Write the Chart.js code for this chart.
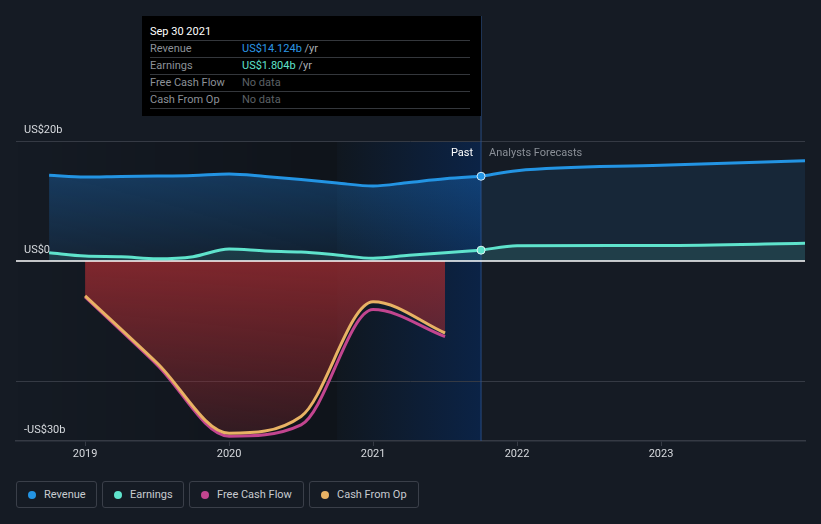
<!DOCTYPE html>
<html>
<head>
<meta charset="utf-8">
<script src="https://cdn.jsdelivr.net/npm/chart.js@4.4.0/dist/chart.umd.min.js"></script>
<style>
  body { margin: 0; background: #151b24; font-family: Roboto, "Noto Sans", sans-serif; }
  #wrap { position: relative; width: 821px; height: 524px; overflow: hidden; }
  #mainChart { position: absolute; left: 0; top: 0; }

  /* fixed tooltip card, as in the screenshot */
  #tip { position: absolute; left: 142px; top: 16px; width: 339px; height: 100px; background: #000; font-size: 11px; color: #8c9198; }
  #tip .hd { position: absolute; left: 8px; top: 7px; height: 17px; line-height: 17px; color: #fff; }
  #tip .row { position: absolute; left: 8px; width: 320px; height: 17px; line-height: 16px; border-top: 1px solid #34373c; box-sizing: border-box; }
  #tip .row.last { border-bottom: 1px solid #34373c; height: 18px; }
  #tip .val { position: absolute; left: 92px; top: 0; }
  #tip .unit { color: #a9adb3; }

  #legend { position: absolute; left: 16px; top: 481px; display: flex; gap: 5px; }
  .leg-item { box-sizing: border-box; height: 27px; border: 1px solid #3a3f49; border-radius: 3px; padding-left: 11px;
              display: flex; align-items: center; font-size: 11px; color: #c8cbd0; }
  .leg-dot { width: 8px; height: 8px; border-radius: 50%; margin-right: 8px; }
</style>
</head>
<body>
<div id="wrap">
  <canvas id="mainChart" width="821" height="470"></canvas>

  <div id="tip">
    <div class="hd">Sep 30 2021</div>
    <div class="row" style="top:24px">Revenue<span class="val"><span style="color:#2c98e6">US$14.124b</span> <span class="unit">/yr</span></span></div>
    <div class="row" style="top:41px">Earnings<span class="val"><span style="color:#5fe2cb">US$1.804b</span> <span class="unit">/yr</span></span></div>
    <div class="row" style="top:58px">Free Cash Flow<span class="val" style="color:#5c6066">No data</span></div>
    <div class="row last" style="top:75px">Cash From Op<span class="val" style="color:#5c6066">No data</span></div>
  </div>

  <div id="legend"></div>
</div>

<script>
'use strict';

/* Colours */
const C_REV  = '#2394e3';
const C_EARN = '#5fe3cc';
const C_FCF  = '#c2458f';
const C_CFO  = '#e8b264';
const C_GRID = '#353a44';
const C_TEXT = '#d6d9dd';

/* Data (US$ billions, x in decimal years) */
const pastQuarters   = [2018.75, 2019.0, 2019.25, 2019.5, 2019.75, 2020.0, 2020.25, 2020.5, 2020.75, 2021.0, 2021.25, 2021.5, 2021.75];
const revenuePast    = [14.3, 14.0, 14.1, 14.15, 14.25, 14.5, 14.1, 13.6, 13.0, 12.5, 13.1, 13.7, 14.124];
const earningsPast   = [1.38, 0.83, 0.72, 0.38, 0.72, 2.0, 1.67, 1.5, 1.0, 0.45, 0.95, 1.38, 1.804];

const forecastYears  = [2021.75, 2022.0, 2023.0, 2024.0];
const revenueFcst    = [14.124, 15.05, 15.95, 16.7];
const earningsFcst   = [1.804, 2.55, 2.6, 2.95];

const cashPeriods    = [2019.0, 2019.5, 2020.0, 2020.5, 2021.0, 2021.5];
const freeCashFlow   = [-6.0, -17.3, -29.2, -27.3, -8.1, -12.6];
const cashFromOp     = [-5.8, -17.0, -28.7, -25.9, -6.8, -12.0];

const xTickYears     = [2019, 2020, 2021, 2022, 2023];
const yLabels        = [{ v: 20, t: 'US$20b' }, { v: 0, t: 'US$0' }, { v: -30, t: '-US$30b' }];
const yGridValues    = [-30, -20, 0, 20];

const X_MIN = 2018.52, X_MAX = 2024.0;
const LAST_YEAR_START = 2020.75, NOW = 2021.75;

const pts = (xs, ys) => xs.map((x, i) => ({ x, y: ys[i] }));

/* vertical gradient helper for fills */
function vGrad(chart, top, bottom, c0, c1) {
  const { ctx, chartArea, scales } = chart;
  if (!chartArea) return c1;
  const y0 = scales.y.getPixelForValue(top), y1 = scales.y.getPixelForValue(bottom);
  const g = ctx.createLinearGradient(0, y0, 0, y1);
  g.addColorStop(0, c0);
  g.addColorStop(1, c1);
  return g;
}

const lastDot = (n) => (c) => (c.dataIndex === n - 1 ? 4 : 0);

/* ─────────────────────────────────────────────
   Plugin: background bands, zero line, labels
───────────────────────────────────────────── */
const decorPlugin = {
  id: 'decor',
  beforeDraw(chart) {
    const { ctx, chartArea: a, scales: { x } } = chart;
    const xs = x.getPixelForValue(LAST_YEAR_START), xn = x.getPixelForValue(NOW);
    ctx.save();
    const g = ctx.createLinearGradient(a.left, 0, xs, 0);
    g.addColorStop(0, 'rgba(0,0,0,0)');
    g.addColorStop(1, 'rgba(0,0,0,0.26)');
    ctx.fillStyle = g;
    ctx.fillRect(a.left, a.top, xs - a.left, a.bottom - a.top);
    const b = ctx.createLinearGradient(xs, 0, xn, 0);
    b.addColorStop(0, '#10171f');
    b.addColorStop(1, '#0b2346');
    ctx.fillStyle = b;
    ctx.fillRect(xs, a.top, xn - xs, a.bottom - a.top);
    ctx.restore();
  },
  beforeDatasetsDraw(chart) {
    const { ctx, chartArea: a, scales: { x, y } } = chart;
    const xn = x.getPixelForValue(NOW);
    const y0 = y.getPixelForValue(0);
    ctx.save();
    ctx.strokeStyle = 'rgba(45,85,150,0.55)';
    ctx.lineWidth = 1.5;
    ctx.beginPath();
    ctx.moveTo(xn, 16);
    ctx.lineTo(xn, a.bottom);
    ctx.stroke();
    ctx.strokeStyle = '#ffffff';
    ctx.lineWidth = 1.5;
    ctx.beginPath();
    ctx.moveTo(a.left, y0);
    ctx.lineTo(a.right, y0);
    ctx.stroke();
    ctx.restore();
  },
  afterDraw(chart) {
    const { ctx, chartArea: a, scales: { x, y } } = chart;
    const xn = x.getPixelForValue(NOW);
    ctx.save();
    ctx.font = '11px Roboto, "Noto Sans", sans-serif';
    ctx.textBaseline = 'middle';
    ctx.fillStyle = C_TEXT;
    yLabels.forEach(({ v, t }) => ctx.fillText(t, 24, y.getPixelForValue(v) - 11));
    ctx.fillStyle = '#ffffff';
    ctx.textAlign = 'right';
    ctx.fillText('Past', xn - 8, a.top + 12);
    ctx.fillStyle = '#8a8f97';
    ctx.textAlign = 'left';
    ctx.fillText('Analysts Forecasts', xn + 8, a.top + 12);
    ctx.restore();
  },
};

const lineBase = { borderWidth: 3, pointRadius: 0, cubicInterpolationMode: 'monotone' };

const datasets = [
  {
    ...lineBase, label: 'Revenue', data: pts(pastQuarters, revenuePast), borderColor: C_REV,
    pointRadius: lastDot(pastQuarters.length), pointBackgroundColor: C_REV, pointBorderColor: '#d9ecf7', pointBorderWidth: 1,
    fill: 'origin', backgroundColor: (c) => vGrad(c.chart, 16, 0, 'rgba(30,130,225,0.34)', 'rgba(30,130,225,0.10)'), order: 2,
  },
  {
    ...lineBase, label: 'Revenue forecast', data: pts(forecastYears, revenueFcst), borderColor: C_REV,
    fill: 'origin', backgroundColor: 'rgba(40,130,205,0.12)', order: 3,
  },
  {
    ...lineBase, label: 'Earnings', data: pts(pastQuarters, earningsPast), borderColor: C_EARN,
    pointRadius: lastDot(pastQuarters.length), pointBackgroundColor: C_EARN, pointBorderColor: '#e2f7f2', pointBorderWidth: 1,
    fill: 'origin', backgroundColor: 'rgba(95,227,204,0.12)', order: 0,
  },
  {
    ...lineBase, label: 'Earnings forecast', data: pts(forecastYears, earningsFcst), borderColor: C_EARN,
    fill: 'origin', backgroundColor: 'rgba(95,227,204,0.12)', order: 1,
  },
  {
    ...lineBase, label: 'Free Cash Flow', data: pts(cashPeriods, freeCashFlow), borderColor: C_FCF,
    fill: false, order: 5,
  },
  {
    ...lineBase, label: 'Cash From Op', data: pts(cashPeriods, cashFromOp), borderColor: C_CFO,
    fill: 'origin', backgroundColor: (c) => vGrad(c.chart, 0, -30, 'rgba(150,42,48,0.82)', 'rgba(150,42,48,0.22)'), order: 4,
  },
];

new Chart(document.getElementById('mainChart').getContext('2d'), {
  type: 'line',
  data: { datasets },
  plugins: [decorPlugin],
  options: {
    responsive: false,
    animation: false,
    devicePixelRatio: 1,
    layout: { padding: { top: 141, left: 16, right: 16, bottom: 0 } },
    plugins: {
      legend: { display: false },
      tooltip: { enabled: false },
      filler: { drawTime: 'beforeDatasetsDraw' },
    },
    scales: {
      x: {
        type: 'linear', min: X_MIN, max: X_MAX,
        afterBuildTicks: (s) => { s.ticks = xTickYears.map(v => ({ value: v })); },
        afterFit: (s) => { s.height = 29; },
        grid: { drawOnChartArea: false, drawTicks: true, tickLength: 5, color: C_GRID },
        border: { display: true, color: C_GRID, width: 1.5 },
        ticks: { color: C_TEXT, padding: 2, font: { family: 'Roboto', size: 11 }, callback: (v) => String(v), maxRotation: 0 },
      },
      y: {
        min: -30, max: 20,
        afterBuildTicks: (s) => { s.ticks = yGridValues.map(v => ({ value: v })); },
        afterFit: (s) => { s.width = 0; },
        grid: { drawTicks: false, color: (c) => (c.tick && (c.tick.value === 20 || c.tick.value === -20) ? C_GRID : 'rgba(0,0,0,0)') },
        border: { display: false },
        ticks: { display: false },
      },
    },
  },
});

/* Legend */
const legendItems = [
  { color: C_REV,  label: 'Revenue',        w: 81 },
  { color: C_EARN, label: 'Earnings',       w: 82 },
  { color: C_FCF,  label: 'Free Cash Flow', w: 115 },
  { color: C_CFO,  label: 'Cash From Op',   w: 110 },
];
document.getElementById('legend').innerHTML = legendItems
  .map(({ color, label, w }) =>
    `<span class="leg-item" style="width:${w}px"><span class="leg-dot" style="background:${color}"></span>${label}</span>`)
  .join('');
</script>
</body>
</html>
